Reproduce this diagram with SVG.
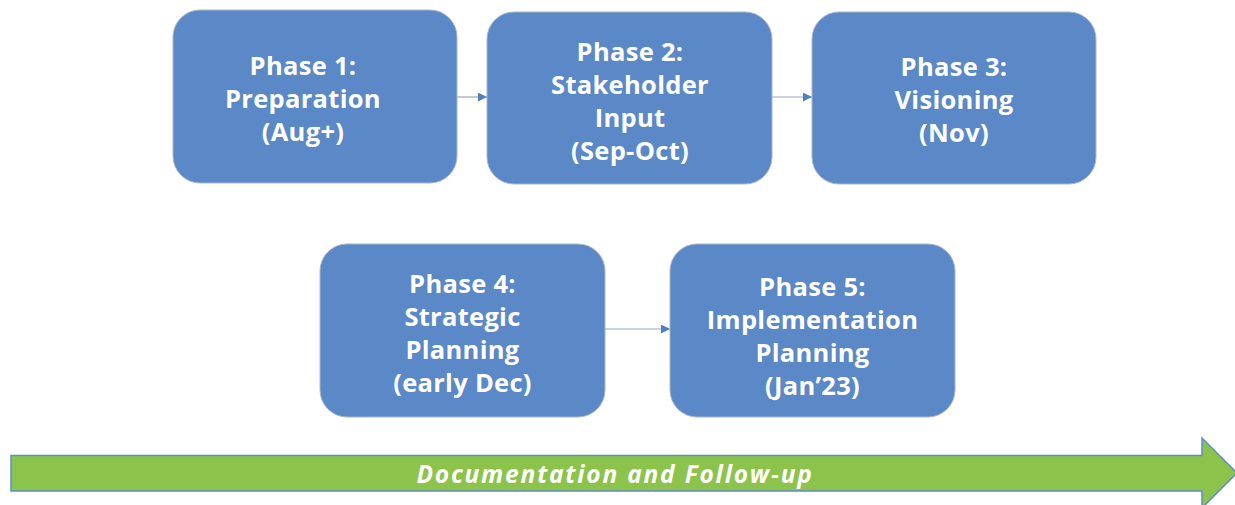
<svg xmlns="http://www.w3.org/2000/svg" width="1235" height="505" viewBox="0 0 1235 505">
  <style>
    .box { fill: #5b88c6; stroke: #aab6c8; stroke-width: 1; }
    .label { font-family: "Open Sans", "Liberation Sans", sans-serif; font-weight: 700; font-size: 25.5px; fill: #ffffff; text-anchor: middle; letter-spacing: 0.3px; }
    .conn { stroke: #98a6bc; stroke-width: 1.2; fill: none; marker-end: url(#head); }
    .band { font-family: "Open Sans", "Liberation Sans", sans-serif; font-weight: 700; font-style: italic; font-size: 24.5px; fill: #ffffff; text-anchor: middle; letter-spacing: 1.8px; }
  </style>
  <defs>
    <marker id="head" viewBox="0 0 10 10" refX="10" refY="5" markerWidth="9" markerHeight="9" markerUnits="userSpaceOnUse" orient="auto">
      <path d="M0,0 L10,5 L0,10 z" fill="#4f7fc0"/>
    </marker>
  </defs>

  <rect width="1235" height="505" fill="#ffffff"/>

  <!-- connectors between phases -->
  <g id="connectors">
    <line class="conn" x1="457" y1="97" x2="487" y2="97"/>
    <line class="conn" x1="772" y1="97" x2="812" y2="97"/>
    <line class="conn" x1="605" y1="329" x2="670" y2="329"/>
  </g>

  <g id="phase1">
    <rect class="box" x="173" y="10" width="284" height="173" rx="27"/>
    <text class="label" x="303" y="75">Phase 1:</text>
    <text class="label" x="303" y="108">Preparation</text>
    <text class="label" x="303" y="141">(Aug+)</text>
  </g>

  <g id="phase2">
    <rect class="box" x="487" y="12" width="285" height="172" rx="27"/>
    <text class="label" x="630" y="61">Phase 2:</text>
    <text class="label" x="630" y="94">Stakeholder</text>
    <text class="label" x="630" y="127">Input</text>
    <text class="label" x="630" y="160">(Sep-Oct)</text>
  </g>

  <g id="phase3">
    <rect class="box" x="812" y="12" width="284" height="172" rx="27"/>
    <text class="label" x="954" y="76">Phase 3:</text>
    <text class="label" x="954" y="109">Visioning</text>
    <text class="label" x="954" y="142">(Nov)</text>
  </g>

  <g id="phase4">
    <rect class="box" x="320" y="244" width="285" height="173" rx="27"/>
    <text class="label" x="462.5" y="293">Phase 4:</text>
    <text class="label" x="462.5" y="326">Strategic</text>
    <text class="label" x="462.5" y="359">Planning</text>
    <text class="label" x="462.5" y="392">(early Dec)</text>
  </g>

  <g id="phase5">
    <rect class="box" x="670" y="244" width="285" height="173" rx="27"/>
    <text class="label" x="812.5" y="296">Phase 5:</text>
    <text class="label" x="812.5" y="329">Implementation</text>
    <text class="label" x="812.5" y="362">Planning</text>
    <text class="label" x="812.5" y="395">(Jan’23)</text>
  </g>

  <!-- timeline arrow along the bottom -->
  <g id="followup">
    <path d="M11,455.5 L1202,455.5 L1202,438 L1237,473 L1202,508 L1202,491 L11,491 Z" fill="#8cc34b" stroke="#5b8fc7" stroke-width="1.5"/>
    <text class="band" x="615" y="483">Documentation and Follow-up</text>
  </g>
</svg>
